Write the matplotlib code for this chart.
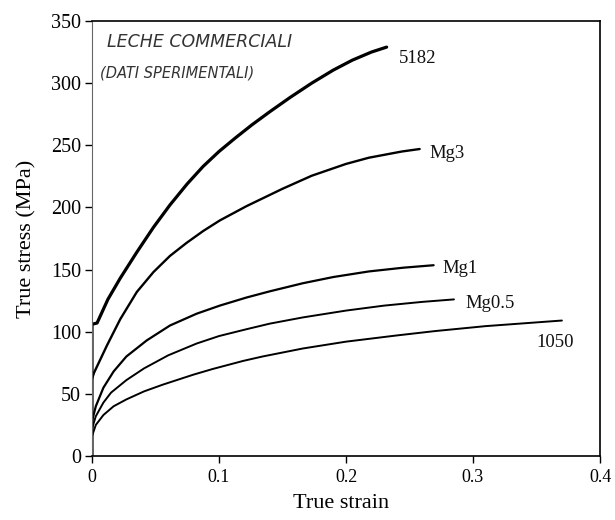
import matplotlib
matplotlib.use("Agg")
import matplotlib.pyplot as plt

# ---- data (true strain, true stress MPa) ----
s_5182 = [0, 0, 0.004, 0.0125, 0.0222, 0.0353, 0.0484, 0.0614, 0.075, 0.0875, 0.1, 0.113,
          0.126, 0.14, 0.156, 0.173, 0.19, 0.205, 0.22, 0.232]
v_5182 = [0, 106, 107, 126, 143, 164, 184, 202, 219, 233, 245, 256,
          266.5, 277, 288.5, 300, 310.5, 318.5, 325, 329]

s_mg3 = [0, 0.0016, 0.0118, 0.0222, 0.0353, 0.0484, 0.0614, 0.0745, 0.0875, 0.1006, 0.1216,
         0.15, 0.173, 0.2, 0.218, 0.244, 0.258]
v_mg3 = [62, 67, 89, 110, 132, 148, 161, 171.5, 181, 189.5, 201,
         215, 225.5, 235, 240, 245, 247]

s_mg1 = [0, 0.003, 0.009, 0.017, 0.027, 0.0431, 0.0614, 0.0824, 0.1006, 0.1216, 0.14, 0.166,
         0.19, 0.218, 0.245, 0.269]
v_mg1 = [28, 40, 55, 68, 80, 93, 105, 114.5, 121, 127.5, 132.5, 139,
         144, 148.5, 151.5, 153.5]

s_mg05 = [0, 0.003, 0.009, 0.015, 0.027, 0.041, 0.06, 0.0824, 0.1, 0.1216, 0.14, 0.166,
          0.2, 0.23, 0.26, 0.285]
v_mg05 = [22, 32, 43, 51, 61, 70.5, 81, 90.5, 96.5, 102, 106.5, 111.5,
          117, 121, 124, 126]

s_1050 = [0, 0.003, 0.009, 0.017, 0.027, 0.041, 0.056, 0.08, 0.095, 0.119, 0.134, 0.166,
          0.2, 0.24, 0.27, 0.31, 0.37]
v_1050 = [16, 25, 33, 40, 45.5, 52, 57.5, 65.5, 70, 76.5, 80, 86.5,
          92, 97, 100.5, 104.5, 109]

names = ["5182", "Mg3", "Mg1", "Mg0.5", "1050"]
strains = [s_5182, s_mg3, s_mg1, s_mg05, s_1050]
stresses = [v_5182, v_mg3, v_mg1, v_mg05, v_1050]
label_pos = [(0.242, 320), (0.266, 243), (0.276, 151), (0.294, 123), (0.350, 91)]
line_widths = [2.3, 1.7, 1.6, 1.4, 1.4]

x_ticks = [0, 0.1, 0.2, 0.3, 0.4]
x_ticklabels = ["0", "0.1", "0.2", "0.3", "0.4"]
y_ticks = [0, 50, 100, 150, 200, 250, 300, 350]

plt.rcParams['font.family'] = ['Liberation Serif', 'DejaVu Serif']

fig = plt.figure(figsize=(6.15, 5.2), dpi=100)
L, R, T, B = 92, 600, 21, 456
ax = fig.add_axes([L / 615, 1 - B / 520, (R - L) / 615, (B - T) / 520])

for name, s, v, (lx, ly), lw in zip(names, strains, stresses, label_pos, line_widths):
    ax.plot(s, v, color="black", lw=lw, solid_capstyle="round", solid_joinstyle="round")
    ax.text(lx, ly, name, fontsize=13.5, va="center", ha="left", color="#111111")

ax.set_xlim(0, 0.4)
ax.set_ylim(0, 350)
ax.set_xticks(x_ticks)
ax.set_xticklabels(x_ticklabels)
ax.set_yticks(y_ticks)
ax.tick_params(direction="out", length=5, width=1, pad=3)
ax.tick_params(axis="y", labelsize=14.5)
ax.tick_params(axis="x", labelsize=13, pad=4)
ax.set_xlabel("True strain", fontsize=16)
ax.set_ylabel("True stress (MPa)", fontsize=16)
ax.xaxis.set_label_coords((341 - L) / (R - L), (B - 494) / (B - T))
ax.yaxis.set_label_coords((36 - L) / (R - L), 0.5)

for side in ["top", "bottom", "right"]:
    ax.spines[side].set_linewidth(1.2)
ax.spines["left"].set_color("#666666")
ax.spines["left"].set_linestyle((0, (1, 1)))

# handwritten annotation
ax.text(0.012, 333, "LECHE COMMERCIALI", fontsize=12.5, style="italic",
        family=["DejaVu Sans"], color="#333333", va="center", fontweight="light")
ax.text(0.006, 308, "(DATI SPERIMENTALI)", fontsize=10.5, style="italic",
        family=["DejaVu Sans"], color="#333333", va="center", fontweight="light")

fig.savefig("out.png", dpi=100, facecolor="white")
